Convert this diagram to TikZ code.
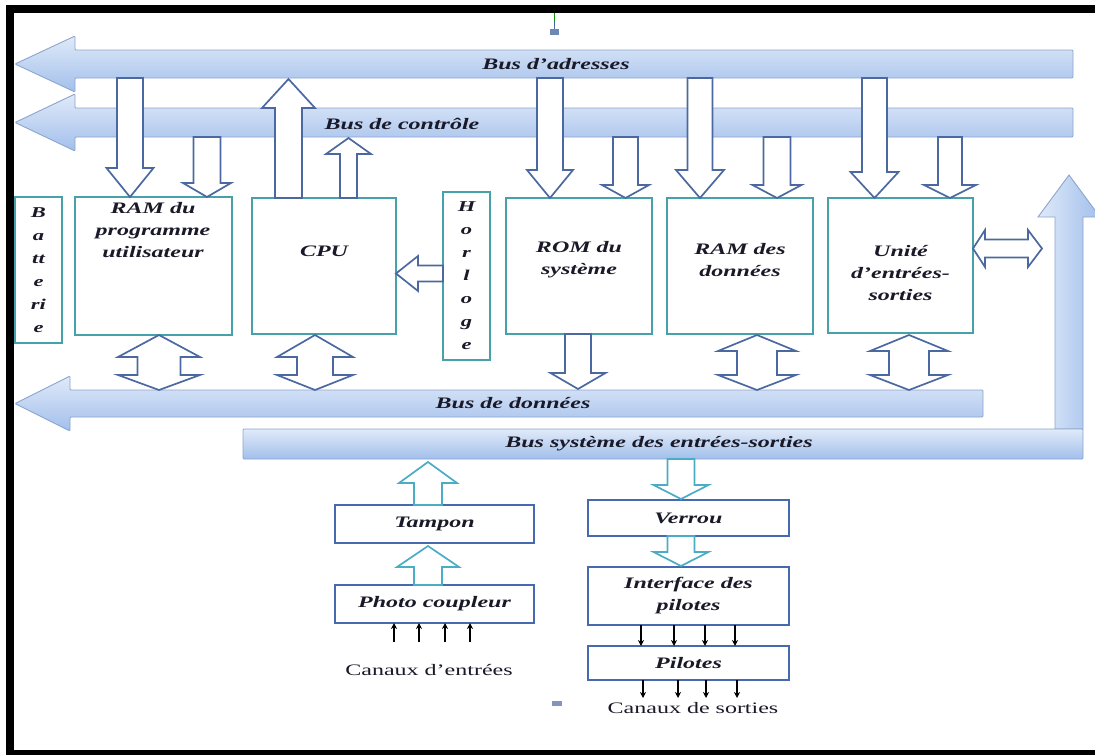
\documentclass[tikz,border=0pt]{standalone}
\usepackage{fontspec}
\usepackage{graphicx}
\setmainfont{Liberation Serif}
\usetikzlibrary{arrows.meta}
\definecolor{txt}{RGB}{25,25,40}
\definecolor{boxteal}{RGB}{71,161,168}
\definecolor{lbox}{RGB}{70,105,175}
\definecolor{arrowblue}{RGB}{75,105,160}
\definecolor{tealarr}{RGB}{75,172,198}
\definecolor{busedge}{RGB}{140,165,205}
\definecolor{bustop}{RGB}{224,234,249}
\definecolor{busbot}{RGB}{162,191,235}
\newcommand\sx[1]{\scalebox{1.5}[1]{#1}}
% vertical block arrow: [style]{x}{ybase}{yhead}{ytip}{shaft half}{head half}
\newcommand\vblock[7][barrow]{%
  \draw[#1] ({#2-#6},#3) -- ({#2+#6},#3) -- ({#2+#6},#4) -- ({#2+#7},#4) -- (#2,#5)
    -- ({#2-#7},#4) -- ({#2-#6},#4) -- cycle;}
% vertical double block arrow: [style]{x}{ytop}{yh1}{yh2}{ybot}{shaft half}{head half}
\newcommand\vdblock[8][barrow]{%
  \draw[#1] (#2,#3) -- ({#2+#8},#4) -- ({#2+#7},#4) -- ({#2+#7},#5) -- ({#2+#8},#5) -- (#2,#6)
    -- ({#2-#8},#5) -- ({#2-#7},#5) -- ({#2-#7},#4) -- ({#2-#8},#4) -- cycle;}
% horizontal block arrow: [style]{y}{xbase}{xhead}{xtip}{shaft half}{head half}
\newcommand\hblock[7][barrow]{%
  \draw[#1] (#3,{#2-#6}) -- (#3,{#2+#6}) -- (#4,{#2+#6}) -- (#4,{#2+#7}) -- (#5,#2)
    -- (#4,{#2-#7}) -- (#4,{#2-#6}) -- cycle;}
% horizontal double block arrow: [style]{y}{xl}{xh1}{xh2}{xr}{shaft half}{head half}
\newcommand\hdblock[8][barrow]{%
  \draw[#1] (#3,#2) -- (#4,{#2-#8}) -- (#4,{#2-#7}) -- (#5,{#2-#7}) -- (#5,{#2-#8}) -- (#6,#2)
    -- (#5,{#2+#8}) -- (#5,{#2+#7}) -- (#4,{#2+#7}) -- (#4,{#2+#8}) -- cycle;}
% bus arrow pointing left: {tipx}{headbase}{headtop}{headbot}{bodytop}{bodybot}{right}
\newcommand\busarrow[7]{%
  \draw[bus] (#1,{(#5+#6)/2}) -- (#2,#3) -- (#2,#5) -- (#7,#5) -- (#7,#6) -- (#2,#6) -- (#2,#4) -- cycle;}
\tikzset{
  box/.style={draw=boxteal, line width=1.8pt, fill=white, inner sep=0pt, outer sep=0pt, anchor=north west},
  lowbox/.style={draw=lbox, line width=1.8pt, fill=white, inner sep=0pt, outer sep=0pt, anchor=north west},
  barrow/.style={draw=arrowblue, line width=1.7pt, fill=white, line join=miter},
  tarrow/.style={draw=tealarr, line width=1.7pt, fill=white, line join=miter},
  bus/.style={draw=busedge, line width=0.9pt, top color=bustop, bottom color=busbot, rounded corners=1pt},
  lbl/.style={font=\fontsize{16}{22}\selectfont\bfseries\itshape, text=txt, align=center, inner sep=0pt},
  vlbl/.style={font=\fontsize{15}{23}\selectfont\bfseries\itshape, text=txt, align=center, inner sep=0pt},
  plain/.style={font=\fontsize{16}{18}\selectfont, text=txt, inner sep=0pt},
  sarrow/.style={draw=black, line width=1.3pt, -{Stealth[length=6pt,width=6pt]}}
}
\begin{document}
\begin{tikzpicture}[x=1pt,y=-1pt]
\useasboundingbox (0,0) rectangle (1095,755);
\fill[white] (0,0) rectangle (1095,755);
% frame
\fill[black] (6,5) rectangle (1095,13);
\fill[black] (6,5) rectangle (14,755);
\fill[black] (6,750) rectangle (1095,755);
% small marks
\draw[green!60!black, line width=1pt] (554,13) -- (554,21);
\draw[arrowblue, line width=1pt] (554,21) -- (554,29);
\fill[arrowblue!80] (550,29) rectangle (559,35);
\fill[arrowblue!70] (552,701) rectangle (562,706);

% buses
\busarrow{15}{75}{36}{92}{50}{78}{1073}
\busarrow{15}{75}{94}{151}{108}{137}{1073}
\busarrow{15}{70}{376}{431}{390}{417}{983}
\draw[draw=busedge, line width=0.9pt, left color=bustop, right color=busbot]
  (1055,429) -- (1055,217) -- (1038,217) -- (1069,175) -- (1100,217) -- (1083,217) -- (1083,429) -- cycle;
\draw[bus] (243,429) rectangle (1083,459);

\node[lbl] (ladr) at (556,64) {\sx{Bus d’adresses}};
\node[lbl] (lctl) at (402,124) {\sx{Bus de contrôle}};
\node[lbl] (ldon) at (513,403) {\sx{Bus de données}};
\node[lbl] (lsys) at (659,444) {\sx{Bus système des entrées-sorties}};

% boxes
\node[box, minimum width=47pt, minimum height=146pt] (bat) at (15,197) {};
\node[box, minimum width=157pt, minimum height=138pt] (ramp) at (75,197) {};
\node[box, minimum width=144pt, minimum height=136pt] (cpu) at (252,198) {};
\node[box, minimum width=47pt, minimum height=168pt] (horl) at (443,192) {};
\node[box, minimum width=146pt, minimum height=136pt] (rom) at (506,198) {};
\node[box, minimum width=146pt, minimum height=136pt] (ramd) at (667,198) {};
\node[box, minimum width=145pt, minimum height=135pt] (unit) at (828,198) {};

\node[vlbl] (tbat) at (bat.center) {\sx{B}\\\sx{a}\\\sx{tt}\\\sx{e}\\\sx{ri}\\\sx{e}};
\node[lbl] (tram) at (153,230) {\sx{RAM du}\\\sx{programme}\\\sx{utilisateur}};
\node[lbl] (tcpu) at (324,251) {\sx{CPU}};
\node[vlbl] (thor) at (466.5,276) {\sx{H}\\\sx{o}\\\sx{r}\\\sx{l}\\\sx{o}\\\sx{g}\\\sx{e}};
\node[lbl] (trom) at (579,260) {\sx{ROM du}\\\sx{système}};
\node[lbl] (tramd) at (740,260) {\sx{RAM des}\\\sx{données}};
\node[lbl] (tunit) at (900.5,273) {\sx{Unité}\\\sx{d’entrées-}\\\sx{sorties}};

% arrows from address / control bus
\vblock{130}{78}{168}{197}{13}{23.5}
\vblock{207}{137}{183}{197}{13.5}{24}
\vblock{288.5}{198}{108}{79}{13.5}{26.5}
\vblock{348.5}{198}{154}{138}{8.5}{22.5}
\vblock{550}{78}{170}{198}{13}{23}
\vblock{625.5}{137}{185}{198}{12.5}{23.5}
\vblock{700}{78}{170}{198}{12.5}{24}
\vblock{777}{137}{185}{198}{13.5}{24.5}
\vblock{874.5}{78}{172}{198}{12.5}{24}
\vblock{950}{137}{185}{198}{12}{26}
% clock to CPU
\hblock{273.5}{443}{418}{396}{8}{17.5}
% data bus connections
\vdblock{159}{335}{357}{375}{390}{21.5}{41}
\vdblock{315}{335}{357}{375}{390}{18}{38}
\vblock{578}{334}{373}{389}{13}{27.5}
\vdblock{757}{335}{351}{375}{390}{20}{39}
\vdblock{909}{335}{351}{375}{390}{20}{39}
% I/O unit to system bus
\hdblock{248.5}{973}{985}{1028}{1042}{9}{18.5}

% lower part
\node[lowbox, minimum width=199pt, minimum height=38pt] (tampon) at (335,505) {};
\node[lowbox, minimum width=199pt, minimum height=38pt] (photo) at (335,585) {};
\node[lowbox, minimum width=201pt, minimum height=36pt] (verrou) at (588,500) {};
\node[lowbox, minimum width=201pt, minimum height=58pt] (iface) at (588,567) {};
\node[lowbox, minimum width=201pt, minimum height=34pt] (pilot) at (588,646) {};

\node[lbl] (ttam) at (tampon.center) {\sx{Tampon}};
\node[lbl] (tpho) at (photo.center) {\sx{Photo coupleur}};
\node[lbl] (tver) at (verrou.center) {\sx{Verrou}};
\node[lbl] (tif) at (iface.center) {\sx{Interface des}\\\sx{pilotes}};
\node[lbl] (tpil) at (pilot.center) {\sx{Pilotes}};

\vblock[tarrow]{428}{505}{483}{462}{14}{29}
\vblock[tarrow]{428}{585}{567}{546}{14}{31}
\vblock[tarrow]{681}{459}{485}{499}{13.5}{27.5}
\vblock[tarrow]{681}{536}{552}{566}{13.5}{27.5}

\foreach \d in {59,84,110,135}
  \draw[sarrow] ([xshift=\d pt,yshift=-19pt]photo.south west) -- ([xshift=\d pt]photo.south west);
\foreach \d in {53,86,117,147}
  \draw[sarrow] ([xshift=\d pt]iface.south west) -- ([xshift=\d pt]pilot.north west);
\foreach \d in {55,90,118,149}
  \draw[sarrow] ([xshift=\d pt]pilot.south west) -- ([xshift=\d pt,yshift=-18pt]pilot.south west);

\node[plain] (cin) at (429,670) {\sx{Canaux d’entrées}};
\node[plain] (cout) at (693,708) {\sx{Canaux de sorties}};
\end{tikzpicture}
\end{document}
